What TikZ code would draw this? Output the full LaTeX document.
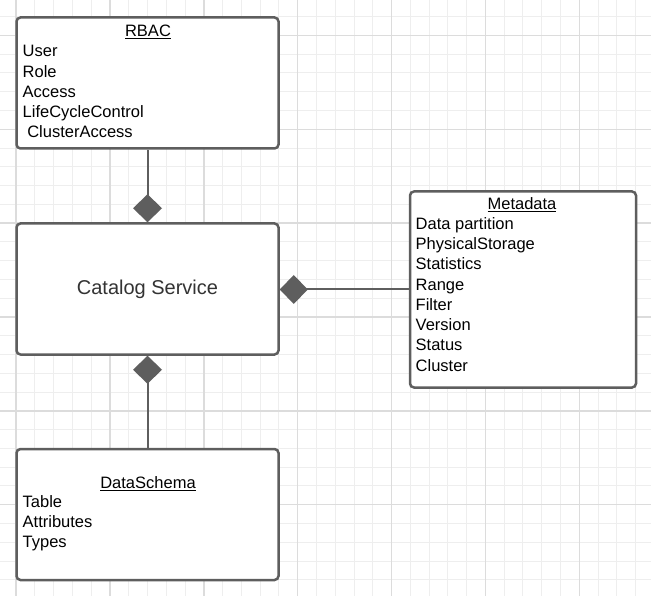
\documentclass[tikz,border=0pt]{standalone}
\usepackage{fontspec}
\setmainfont{Liberation Sans}
\usetikzlibrary{arrows.meta}
\definecolor{boxline}{HTML}{5E5E5E}
\definecolor{gridminor}{HTML}{EEEEEE}
\definecolor{gridmajor}{HTML}{DCDCDC}
\definecolor{servtext}{HTML}{333333}

\begin{document}
\begin{tikzpicture}[x=1pt, y=-1pt, every node/.style={font=\fontsize{16.5}{20.25}\selectfont},
	classbox/.style={draw=boxline, line width=2.5pt, fill=white, rounded corners=4pt, minimum width=262pt, minimum height=131pt, inner sep=0pt},
	classtitle/.style={anchor=base, inner sep=0pt},
	classitems/.style={anchor=base west, align=left, inner sep=0pt},
	comp/.style={draw=boxline, line width=2pt, -{Diamond[length=28pt, width=29pt, fill=boxline]}}]
	\useasboundingbox (0,0) rectangle (651,596);
	% grid paper
	\foreach \k in {0,...,33} \draw[gridminor, line width=1pt] (16.15+18.77*\k,0) -- (16.15+18.77*\k,596);
	\foreach \k in {0,...,30} \draw[gridminor, line width=1pt] (0,16.68+18.77*\k) -- (651,16.68+18.77*\k);
	\foreach \k in {0,...,6} \draw[gridmajor, line width=1.5pt] (16.15+93.85*\k,0) -- (16.15+93.85*\k,596);
	\foreach \k in {0,...,5} \draw[gridmajor, line width=1.5pt] (0,35.45+93.85*\k) -- (651,35.45+93.85*\k);
	% classes (items sit on the baseline of their last line)
	\node[classbox] (rbac) at (147.5,83) {};
	\node[classtitle] (rbactitle) at (148,37) {\underline{RBAC}};
	\node[classitems] (rbacitems) at (22.5,138) {User\\Role\\Access\\LifeCycleControl\\\ ClusterAccess};
	\node[classbox, font=\fontsize{20}{24}\selectfont, text=servtext] (catalog) at (147.5,289) {Catalog Service};
	\node[classbox, minimum width=226pt, minimum height=196pt] (meta) at (523,289.5) {};
	\node[classtitle] (metatitle) at (522,210) {\underline{Metadata}};
	\node[classitems] (metaitems) at (415.5,371) {Data partition\\PhysicalStorage\\Statistics\\Range\\Filter\\Version\\Status\\Cluster};
	\node[classbox] (schema) at (147.5,514.5) {};
	\node[classtitle] (schematitle) at (148,488.3) {\underline{DataSchema}};
	\node[classitems] (schemaitems) at (22.5,547.5) {Table\\Attributes\\Types};
	% compositions
	\draw[comp] (rbac.south) -- (catalog.north);
	\draw[comp] (schema.north) -- (catalog.south);
	\draw[comp] (meta.west) -- (meta.west -| catalog.east);
\end{tikzpicture}
\end{document}
